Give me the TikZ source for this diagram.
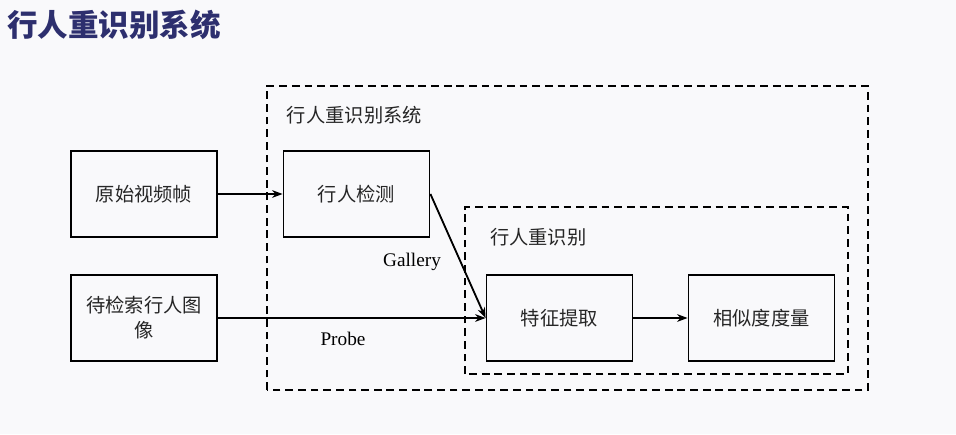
\documentclass[tikz,border=0pt]{standalone}
\usepackage{fontspec}
\setmainfont{Liberation Serif}
\newfontfamily\cjk{Noto Sans CJK SC}
\usepackage{xcolor}
\usetikzlibrary{arrows.meta,positioning,calc}
\definecolor{pagebg}{RGB}{249,249,251}
\definecolor{titlenavy}{RGB}{45,47,110}
\tikzset{
  stagebox/.style={draw, rectangle, line width=1.3pt, minimum width=3.65cm, minimum height=2.15cm, align=center, font=\cjk\fontsize{13.7}{17.8}\selectfont, text=black!85},
  groupbox/.style={draw, line width=1.3pt, dash pattern=on 5.5pt off 3.5pt},
  flow/.style={line width=1.3pt, -{Stealth[length=7.5pt,width=5.5pt]}}
}

\begin{document}
\begin{tikzpicture}
  \fill[pagebg] (0,0) rectangle (23.9,10.85);
  \useasboundingbox (0,0) rectangle (23.9,10.85);

  % Title
  \node[anchor=west, text=titlenavy, font=\cjk\bfseries\fontsize{21.7}{26}\selectfont] (title) at (0.06,10.225) {行人重识别系统};

  % System frames
  \draw[groupbox] (6.675,1.1) rectangle (21.7,8.7);
  \node[anchor=west, font=\cjk\fontsize{13.7}{17}\selectfont, text=black!85] (syslabel) at (7.05,7.975) {行人重识别系统};
  \draw[groupbox] (11.625,1.5) rectangle (21.2,5.675);
  \node[anchor=west, font=\cjk\fontsize{13.7}{17}\selectfont, text=black!85] (reidlabel) at (12.13,4.925) {行人重识别};

  % Stages
  \node[stagebox] (video) at (3.6,6.0) {原始视频帧};
  \node[stagebox] (detect) at (8.9125,6.0) {行人检测};
  \node[stagebox] (query) at (3.6,2.9) {待检索行人图\\像};
  \node[stagebox] (feature) at (13.9875,2.9) {特征提取};
  \node[stagebox] (metric) at (19.0375,2.9) {相似度度量};

  % Connectors
  \draw[flow] (video) -- (detect);
  \draw[flow] (detect.east) -- (feature.west);
  \draw[flow] (query) -- (feature);
  \draw[flow] (feature) -- (metric);
  \node[font=\fontsize{13.7}{17}\selectfont] (gallery) at (10.3,4.3) {Gallery};
  \node[font=\fontsize{13.7}{17}\selectfont] (probe) at (8.575,2.375) {Probe};
\end{tikzpicture}
\end{document}
